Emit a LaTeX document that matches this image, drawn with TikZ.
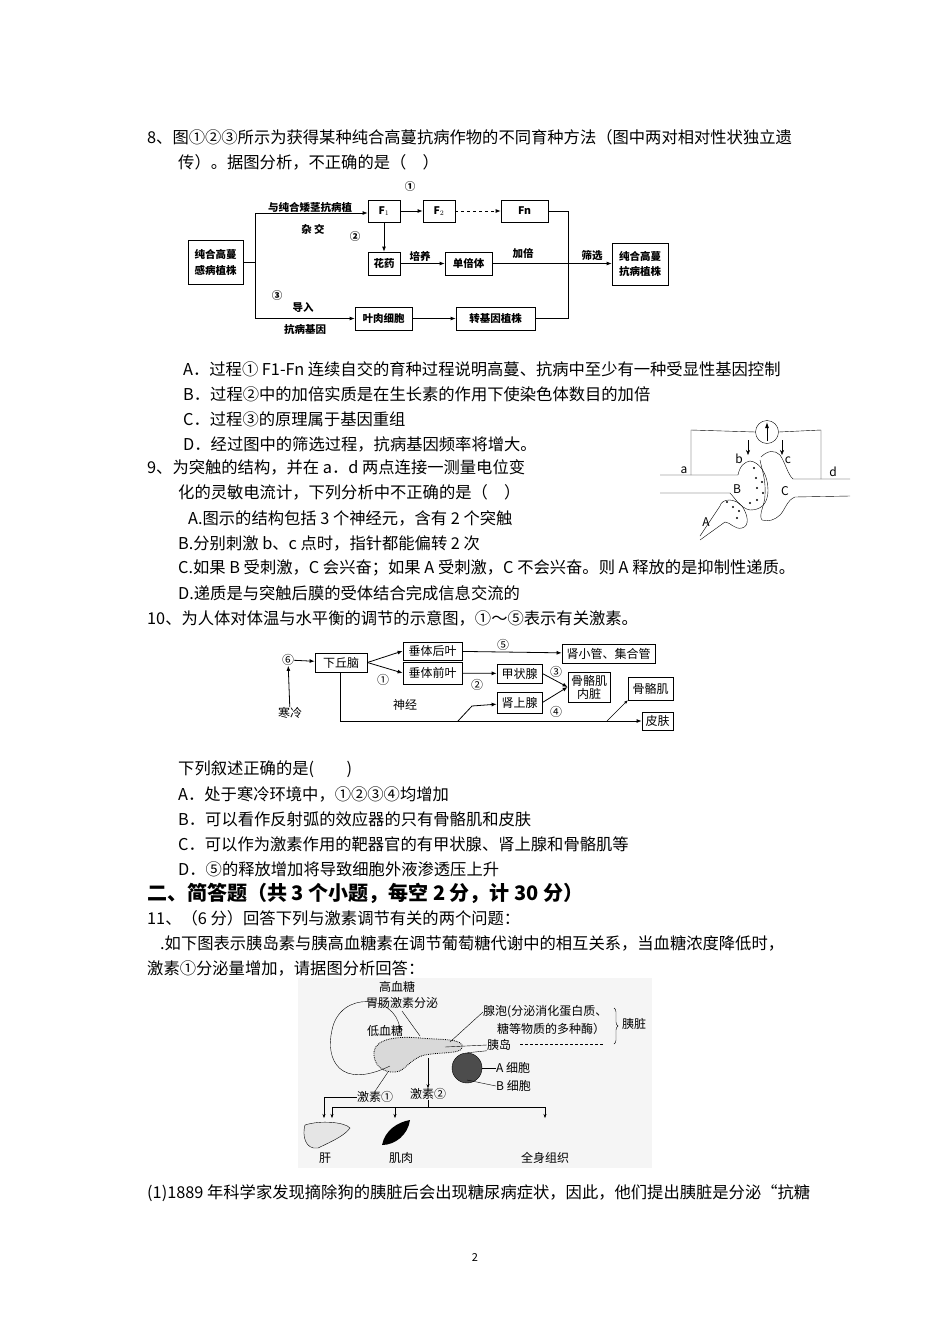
\documentclass[tikz,border=0pt]{standalone}
\usepackage{fontspec}
\setmainfont{Noto Sans CJK SC}
\usetikzlibrary{arrows.meta,decorations.pathreplacing}
\begin{document}
\begin{tikzpicture}[x=1pt,y=-1pt,
 tx/.style={anchor=west,inner sep=0pt,font=\fontsize{16.3}{18}\selectfont},
 bx/.style={draw,thick,inner sep=1pt,font=\fontsize{10.5}{13}\selectfont\bfseries,align=center},
 lb/.style={inner sep=0pt,font=\fontsize{10.5}{12}\selectfont\bfseries},
 bx2/.style={draw,thick,inner sep=1.5pt,font=\fontsize{12}{13}\selectfont,align=center},
 lb2/.style={inner sep=0pt,font=\fontsize{12}{13}\selectfont},
 lb3/.style={inner sep=0pt,font=\fontsize{12}{13}\selectfont,align=left},
 ar/.style={-{Latex[length=5pt,width=4pt]},thick},
 ar2/.style={-{Stealth[length=4pt,width=3pt]}}]
\useasboundingbox (0,0) rectangle (950,1344);
\fill[white] (0,0) rectangle (950,1344);
% Q8
\node[tx] (q8a) at (147,137) {8、图①②③所示为获得某种纯合高蔓抗病作物的不同育种方法（图中两对相对性状独立遗};
\node[tx] (q8b) at (178,162) {传）。据图分析，不正确的是（　）};
% diagram 1
\node[bx,minimum width=55,minimum height=44] (s) at (215.5,262.5) {纯合高蔓\\[3pt]感病植株};
\node[bx,minimum width=32,minimum height=22] (f1) at (384,211) {F$_1$};
\node[bx,minimum width=32,minimum height=22] (f2) at (439,211) {F$_2$};
\node[bx,minimum width=47,minimum height=22] (fn) at (524.5,211) {Fn};
\node[bx,minimum width=32,minimum height=23] (hy) at (384,263.5) {花药};
\node[bx,minimum width=47,minimum height=23] (db) at (468.5,263.5) {单倍体};
\node[bx,minimum width=56,minimum height=42] (t) at (640,264) {纯合高蔓\\[3pt]抗病植株};
\node[bx,minimum width=57,minimum height=23] (yr) at (383.5,318.5) {叶肉细胞};
\node[bx,minimum width=79,minimum height=23] (zj) at (495.5,318.5) {转基因植株};
\coordinate (j1) at (255,262.5);
\coordinate (j1t) at (255,213);
\coordinate (j1b) at (255,318.5);
\coordinate (j2) at (568,211);
\coordinate (j2b) at (568,318.5);
\draw[thick] (s) -- (j1) (j1t) -- (j1b);
\draw[ar] (j1t) -- (f1.west|-j1t);
\draw[ar] (j1b) -- (yr);
\draw[ar] (f1) -- (f2);
\draw[ar,dashed] (f2) -- (fn);
\draw[ar] (f1) -- (hy);
\draw[ar] (hy) -- (db);
\draw[ar] (db.east) -- (t.west|-db.east);
\draw[ar] (yr) -- (zj);
\draw[thick] (fn) -- (j2) -- (j2b) -- (zj);
\node[lb] (l1) at (310,207) {与纯合矮茎抗病植};
\node[lb] (l2) at (313,229) {杂\ 交};
\node[lb] (c1) at (410,187) {①};
\node[lb] (c2) at (355,237) {②};
\node[lb] (l3) at (420,256) {培养};
\node[lb] (l4) at (523,253) {加倍};
\node[lb] (l5) at (592,256) {筛选};
\node[lb] (c3) at (277,296) {③};
\node[lb] (l6) at (303,307) {导入};
\node[lb] (l7) at (305,329) {抗病基因};
% options 8
\node[tx] (o8a) at (183,369) {A．过程① F1-Fn 连续自交的育种过程说明高蔓、抗病中至少有一种受显性基因控制};
\node[tx] (o8b) at (183,394) {B．过程②中的加倍实质是在生长素的作用下使染色体数目的加倍};
\node[tx] (o8c) at (183,419) {C．过程③的原理属于基因重组};
\node[tx] (o8d) at (183,444) {D．经过图中的筛选过程，抗病基因频率将增大。};
% Q9
\node[tx] (q9a) at (147,467) {9、为突触的结构，并在 a．d 两点连接一测量电位变};
\node[tx] (q9b) at (178,492) {化的灵敏电流计，下列分析中不正确的是（　）};
\node[tx] (q9c) at (188,518) {A.图示的结构包括 3 个神经元，含有 2 个突触};
\node[tx] (q9d) at (178,543) {B.分别刺激 b、c 点时，指针都能偏转 2 次};
\node[tx] (q9e) at (178,568) {C.如果 B 受刺激，C 会兴奋；如果 A 受刺激，C 不会兴奋。则 A 释放的是抑制性递质。};
\node[tx] (q9f) at (178,593) {D.递质是与突触后膜的受体结合完成信息交流的};
% synapse
\begin{scope}[thin]
\node[draw,circle,minimum size=23,inner sep=0pt] (m) at (767,432) {};
\draw[-{Latex[length=6pt,width=4pt]},thick] (767,441) -- (767,422);
\draw (691,475) -- (691,430) -- (m.west) (m.east) -- (821,430) -- (821,479);
\draw (660,475) -- (738,475) .. controls (740,465) and (745,462) .. (750,461)
 .. controls (760,462) and (768,475) .. (768,490) .. controls (768,505) and (760,510) .. (750,510)
 .. controls (740,508) and (735,498) .. (730,493) -- (660,493);
\draw (700,536) -- (720,506) .. controls (722,498) and (735,498) .. (742,506)
 .. controls (748,515) and (750,526) .. (742,528) .. controls (735,530) and (730,522) .. (725,522) -- (700,540);
\draw (761,457) .. controls (768,450) and (775,450) .. (780,455)
 .. controls (785,462) and (788,475) .. (793,479) -- (850,479);
\draw (850,496) -- (795,497) .. controls (787,500) and (785,510) .. (780,515)
 .. controls (775,520) and (768,522) .. (762,520) .. controls (758,515) and (765,505) .. (765,495)
 .. controls (766,480) and (762,470) .. (760,460);
\foreach \p in {(754,468),(756,478),(762,482),(757,488),(763,493),(757,500),(750,503),(727,502),(733,507),(739,511),(737,518)}
 \fill \p circle (1.2);
\draw[-{Stealth[length=5pt,width=4pt]}] (748,440) -- (748,455);
\draw[-{Stealth[length=5pt,width=4pt]}] (782,440) -- (782,455);
\node[lb2] (la) at (684,470) {a};
\node[lb2] (lbb) at (739,459) {b};
\node[lb2] (lc) at (788,460) {c};
\node[lb2] (ld) at (833,472) {d};
\node[lb2] (lB) at (737,489) {B};
\node[lb2] (lC) at (785,491) {C};
\node[lb2] (lA) at (706,522) {A};
\end{scope}
% Q10
\node[tx] (q10) at (147,618) {10、为人体对体温与水平衡的调节的示意图，①～⑤表示有关激素。};
\node[bx2,minimum width=52,minimum height=19] (xq) at (341,662.5) {下丘脑};
\node[bx2,minimum width=59,minimum height=18] (hy2) at (432.5,651) {垂体后叶};
\node[bx2,minimum width=59,minimum height=22] (qy) at (432.5,673) {垂体前叶};
\node[bx2,minimum width=93,minimum height=19] (sx) at (608.5,653.5) {肾小管、集合管};
\node[bx2,minimum width=45,minimum height=19] (jz) at (519.5,673.5) {甲状腺};
\node[bx2,minimum width=42,minimum height=30,inner sep=0pt] (gg) at (589,687) {骨骼肌\\内脏};
\node[bx2,minimum width=45,minimum height=21] (ss) at (519.5,702.5) {肾上腺};
\node[bx2,minimum width=45,minimum height=23] (g2) at (650.5,688.5) {骨骼肌};
\node[bx2,minimum width=31,minimum height=18] (pf) at (657.5,721) {皮肤};
\node[lb2] (c6) at (288,660) {⑥};
\node[lb2] (hl) at (290,713) {寒冷};
\draw[ar] (hl) -- (c6);
\draw[ar] (c6) -- (xq);
\draw[ar] (xq.east) -- (hy2.west);
\draw[ar] (xq.east) -- (qy.west);
\draw[ar] (hy2) -- (sx);
\draw[ar] (qy) -- (jz);
\draw[ar] (jz.east) -- (gg.west);
\draw[ar] (ss.east) -- (gg.west);
\coordinate (n1) at (340,721);
\coordinate (n2) at (458,721);
\coordinate (n3) at (607,721);
\draw[thick] (xq.south-|n1) -- (n1);
\draw[ar] (n1) -- (pf);
\draw[ar] (n2) -- (472,706) -- (ss);
\draw[ar2] (n3) -- (g2.south west);
\node[lb2] (k1) at (383,680) {①};
\node[lb2] (k2) at (477,685) {②};
\node[lb2] (k3) at (556,672) {③};
\node[lb2] (k4) at (556,712) {④};
\node[lb2] (k5) at (503,645) {⑤};
\node[lb2] (sj) at (405,705) {神经};
% options 10
\node[tx] (o10) at (178,769) {下列叙述正确的是(　　)};
\node[tx] (o10a) at (178,794) {A．处于寒冷环境中，①②③④均增加};
\node[tx] (o10b) at (178,819) {B．可以看作反射弧的效应器的只有骨骼肌和皮肤};
\node[tx] (o10c) at (178,844) {C．可以作为激素作用的靶器官的有甲状腺、肾上腺和骨骼肌等};
\node[tx] (o10d) at (178,869) {D．⑤的释放增加将导致细胞外液渗透压上升};
\node[tx,font=\fontsize{20}{22}\selectfont\bfseries] (h2) at (147,893) {二、简答题（共 3 个小题，每空 2 分，计 30 分）};
\node[tx] (q11) at (147,918) {11、（6 分）回答下列与激素调节有关的两个问题：};
\node[tx] (q11a) at (160,943) {.如下图表示胰岛素与胰高血糖素在调节葡萄糖代谢中的相互关系，当血糖浓度降低时，};
\node[tx] (q11b) at (147,968) {激素①分泌量增加，请据图分析回答：};
% diagram 3
\fill[black!4] (298,978) rectangle (652,1168);
\node[lb3] (gx) at (397,987) {高血糖};
\node[lb3] (wc) at (402,1003) {胃肠激素分泌};
\node[lb3,anchor=west] (xp) at (483,1012) {腺泡(分泌消化蛋白质、};
\node[lb3,anchor=west] (xp2) at (497,1029) {糖等物质的多种酶）};
\node[lb3] (yz) at (634,1024) {胰脏};
\node[lb3] (yd) at (499,1045) {胰岛};
\node[lb3] (dx) at (385,1031) {低血糖};
\node[lb3,anchor=west] (ac) at (496,1068) {A 细胞};
\node[lb3,anchor=west] (bc) at (496,1086) {B 细胞};
\node[lb3] (j1n) at (375,1097) {激素①};
\node[lb3] (j2n) at (428,1094) {激素②};
\node[lb3] (gan) at (325,1158) {肝};
\node[lb3] (jr) at (401,1158) {肌肉};
\node[lb3] (qs) at (545,1158) {全身组织};
\draw[decorate,decoration={brace,amplitude=4pt}] (614,1008) -- (614,1044);
\draw[densely dashed] (520,1044) -- (603,1044);
% pancreas blob
\draw[fill=black!15,densely dotted,thick] (374,1052) .. controls (375,1038) and (400,1036) .. (420,1038)
 .. controls (440,1040) and (465,1038) .. (462,1048) .. controls (460,1054) and (440,1052) .. (425,1055)
 .. controls (410,1058) and (405,1072) .. (395,1072) .. controls (382,1073) and (373,1064) .. (374,1052) -- cycle;
\node[circle,draw,fill=black!70,minimum size=30,inner sep=0pt] (isl) at (467,1068) {};
\draw (isl.east) -- (ac.west);
\draw (467,1080) -- (bc.west);
\draw (isl.north) -- (yd.south west);
\draw (445,1047) -- (yd.west);
\draw (450,1042) -- (xp.west);
\draw (402,1011) -- (420,1036);
\draw (388,1072) -- (j1n.north);
\draw[ar2] (390,1066) .. controls (340,1090) and (325,1060) .. (332,1030) .. controls (340,990) and (395,995) .. (400,1030);
\draw[ar2] (428,1058) -- (j2n.north);
\coordinate (hb) at (428,1107);
\draw (j2n.south) -- (hb);
\draw[ar2] (332,1107) -- (332,1118);
\draw[ar2] (j1n.west) -- (324,1097) -- (324,1118);
\draw (332,1107) -- (545,1107);
\draw[ar2] (395,1107) -- (395,1118);
\draw[ar2] (545,1107) -- (545,1118);
\draw[fill=black!10] (305,1125) .. controls (320,1120) and (345,1122) .. (350,1128) .. controls (345,1135) and (335,1140) .. (318,1148) .. controls (305,1150) and (302,1135) .. (305,1125) -- cycle;
\fill (382,1145) .. controls (385,1130) and (398,1122) .. (410,1120) .. controls (408,1135) and (395,1145) .. (382,1145) -- cycle;
% end text
\node[tx] (q11c) at (147,1193) {(1)1889 年科学家发现摘除狗的胰脏后会出现糖尿病症状，因此，他们提出胰脏是分泌“抗糖};
\node[inner sep=0pt,font=\fontsize{11}{12}\selectfont] (pg) at (475,1257) {2};
\end{tikzpicture}
\end{document}
